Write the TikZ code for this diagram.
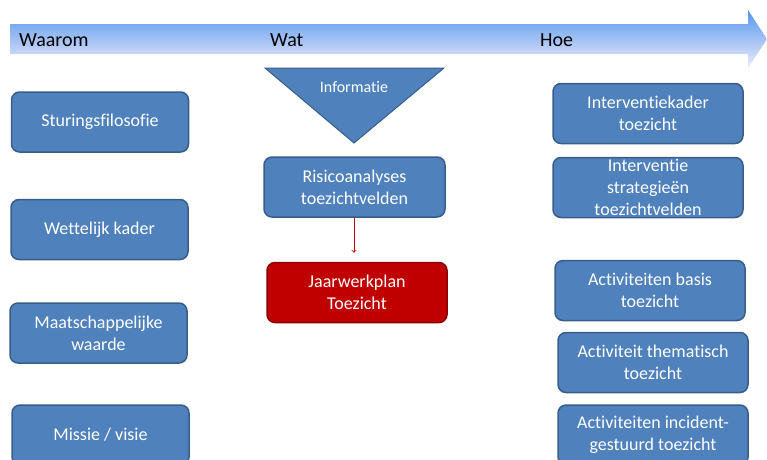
\documentclass[tikz,border=0pt]{standalone}
\usepackage{fontspec}
\setmainfont{Carlito}[Ligatures={NoCommon}]
\definecolor{blokblauw}{RGB}{79,129,189}
\definecolor{blokrand}{RGB}{56,93,138}
\definecolor{planrood}{RGB}{192,0,0}
\definecolor{planrand}{RGB}{140,0,0}
\definecolor{pijlboven}{RGB}{85,150,238}
\definecolor{pijlonder}{RGB}{238,236,250}
\begin{document}
\begin{tikzpicture}[x=1pt,y=-1pt]
	\tikzstyle{blok}=[rectangle,rounded corners=8pt,draw=blokrand,line width=1.5pt,fill=blokblauw,text=white,align=center,inner sep=0pt,minimum width=177pt,minimum height=60pt,font=\fontsize{18}{22}\selectfont]
	\tikzstyle{kop}=[anchor=west,inner sep=0pt,font=\fontsize{20}{24}\selectfont]
	\tikzstyle{edge}=[draw,planrood,line width=0.8pt,->,shorten >=9pt]
	\useasboundingbox (0,0) rectangle (767,459);
	\clip (0,0) rectangle (767,459);
	% tijdlijn
	\shade[top color=pijlboven,bottom color=pijlonder] (10,24) -- (748,24) -- (748,10) -- (767,39) -- (748,68) -- (748,54) -- (10,54) -- cycle;
	\node [kop] (waarom) at (19,40) {Waarom};
	\node [kop] (wat) at (270,40) {Wat};
	\node [kop] (hoe) at (540,40) {Hoe};
	% waarom
	\node [blok] (w1) at (100,122) {Sturingsfilosofie};
	\node [blok] (w2) at (99.5,229.5) {Wettelijk kader};
	\node [blok] (w3) at (98.5,333) {Maatschappelijke\\waarde};
	\node [blok] (w4) at (100.5,435) {Missie / visie};
	% wat
	\draw [fill=blokblauw,draw=blokrand,line width=1pt] (265,68) -- (444,68) -- (354,143) -- cycle;
	\node [text=white,font=\fontsize{16}{20}\selectfont] (info) at (354,87) {Informatie};
	\node [blok,minimum width=181pt] (risico) at (354.5,187) {Risicoanalyses\\toezichtvelden};
	\node [blok,minimum width=180pt,fill=planrood,draw=planrand] (plan) at (357,292.5) {Jaarwerkplan\\Toezicht};
	\path[edge] (risico.south -| 354,0) -- (plan.north -| 354,0);
	% hoe
	\node [blok,minimum width=190pt] (h1) at (648,113.5) {Interventiekader\\toezicht};
	\node [blok,minimum width=190pt] (h2) at (648,187.5) {Interventie\\strategieën\\toezichtvelden};
	\node [blok,minimum width=190pt] (h3) at (650,290.5) {Activiteiten basis\\toezicht};
	\node [blok,minimum width=190pt] (h4) at (653,362.5) {Activiteit thematisch\\toezicht};
	\node [blok,minimum width=190pt] (h5) at (653,435) {Activiteiten incident-\\gestuurd toezicht};
\end{tikzpicture}
\end{document}
